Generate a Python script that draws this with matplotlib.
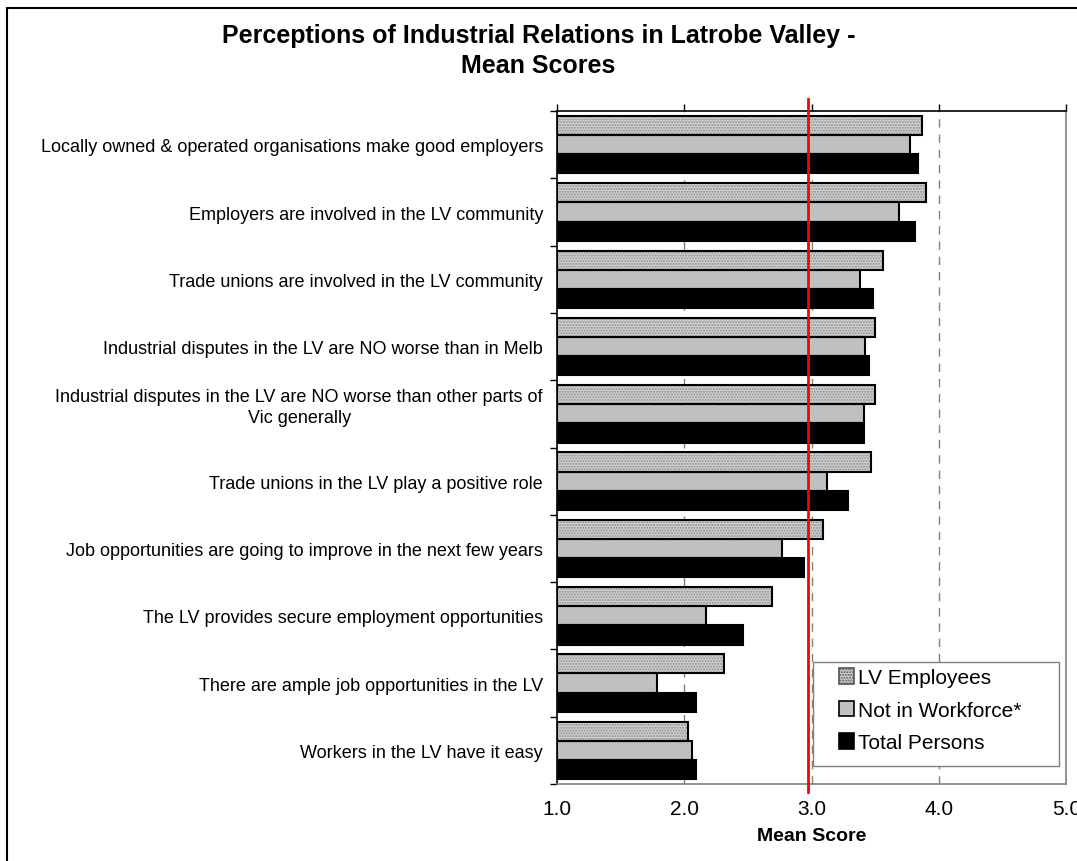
import matplotlib
matplotlib.use("Agg")
import matplotlib.pyplot as plt
import numpy as np
from matplotlib.patches import Rectangle, Patch

plt.rcParams['font.family'] = ['Liberation Sans', 'DejaVu Sans']

statements = [
    "Locally owned & operated organisations make good employers",
    "Employers are involved in the LV community",
    "Trade unions are involved in the LV community",
    "Industrial disputes in the LV are NO worse than in Melb",
    "Industrial disputes in the LV are NO worse than other parts of\nVic generally\n",
    "Trade unions in the LV play a positive role",
    "Job opportunities are going to improve in the next few years",
    "The LV provides secure employment opportunities",
    "There are ample job opportunities in the LV",
    "Workers in the LV have it easy",
]
lv_employees = [3.87, 3.90, 3.56, 3.50, 3.50, 3.47, 3.09, 2.69, 2.31, 2.03]
not_in_workforce = [3.77, 3.69, 3.38, 3.42, 3.41, 3.12, 2.77, 2.17, 1.79, 2.06]
total_persons = [3.84, 3.81, 3.48, 3.45, 3.41, 3.29, 2.94, 2.46, 2.09, 2.09]
overall_mean = 2.97
x_ticks = [1.0, 2.0, 3.0, 4.0, 5.0]

fig = plt.figure(figsize=(10.77, 8.62), dpi=100)
ax = fig.add_axes([0.517, 0.0893, 0.473, 0.7807])

n = len(statements)
y = np.arange(n)
h = 0.285
base = 1.0

# LV employees: fine grey dotted fill, then a black outline on top
ax.barh(y - h, np.array(lv_employees) - base, left=base, height=h,
        color='#d2d2d2', edgecolor='#8c8c8c', linewidth=0, hatch='......', zorder=3)
ax.barh(y - h, np.array(lv_employees) - base, left=base, height=h,
        fill=False, edgecolor='black', linewidth=1.5, zorder=4)
ax.barh(y, np.array(not_in_workforce) - base, left=base, height=h,
        color='#c0c0c0', edgecolor='black', linewidth=1.5, zorder=3)
ax.barh(y + h, np.array(total_persons) - base, left=base, height=h,
        color='black', edgecolor='black', linewidth=1.5, zorder=3)

ax.set_xlim(1.0, 5.0)
ax.set_ylim(n - 0.5, -0.5)

# grid
for xv in x_ticks[1:4]:
    ax.axvline(xv, color='#808080', linestyle=(0, (6, 5)), linewidth=1, zorder=1)

# mean line
ax.plot([overall_mean, overall_mean], [-0.012, 1.018], transform=ax.get_xaxis_transform(),
        color='red', linewidth=2, clip_on=False, zorder=5)

# y axis: labels at centres, ticks at boundaries
ax.set_yticks(y)
ax.set_yticklabels(statements, fontsize=13, multialignment='center', linespacing=1.3)
ax.tick_params(axis='y', which='major', length=0, pad=10)
ax.set_yticks(np.arange(n + 1) - 0.5, minor=True)
ax.tick_params(axis='y', which='minor', length=5, direction='out', width=1)

# x axis: labels bottom, ticks on top
ax.set_xticks(x_ticks)
ax.set_xticklabels([f"{v:.1f}" for v in x_ticks], fontsize=15)
ax.tick_params(axis='x', bottom=False, top=True, labelbottom=True, length=5,
               direction='out', width=1, pad=6)
ax.set_xlabel('Mean Score', fontsize=14, fontweight='bold', labelpad=6)

ax.spines['top'].set_color('black')
ax.spines['left'].set_color('black')
ax.spines['right'].set_color('#808080')
ax.spines['bottom'].set_color('#808080')
for s in ax.spines.values():
    s.set_linewidth(1.2)

# legend box drawn separately so it can be wider than its entries
ax.add_patch(Rectangle((0.503, 0.027), 0.483, 0.154, transform=ax.transAxes,
                       facecolor='white', edgecolor='#808080', linewidth=1, zorder=6))
handles = [
    Patch(facecolor='#d2d2d2', edgecolor='#555555', hatch='......', linewidth=1.2),
    Patch(facecolor='#c0c0c0', edgecolor='black', linewidth=1.2),
    Patch(facecolor='black', edgecolor='black', linewidth=1.2),
]
labels = ['LV Employees', 'Not in Workforce*', 'Total Persons']
leg = ax.legend(handles, labels, loc='upper left', bbox_to_anchor=(0.553, 0.172), fontsize=15,
                frameon=False, handlelength=0.75, handleheight=0.75, handletextpad=0.2,
                borderpad=0, labelspacing=0.65, borderaxespad=0)
leg.set_zorder(7)

fig.text(0.5, 0.941, "Perceptions of Industrial Relations in Latrobe Valley -\nMean Scores",
         ha='center', va='center', fontsize=18, fontweight='bold', linespacing=1.3)

fig.patches.append(Rectangle((0.0065, -0.02), 1.05, 0.9896 + 0.02, transform=fig.transFigure,
                             fill=False, edgecolor='black', linewidth=1.5))

fig.savefig('out.png', dpi=100)
